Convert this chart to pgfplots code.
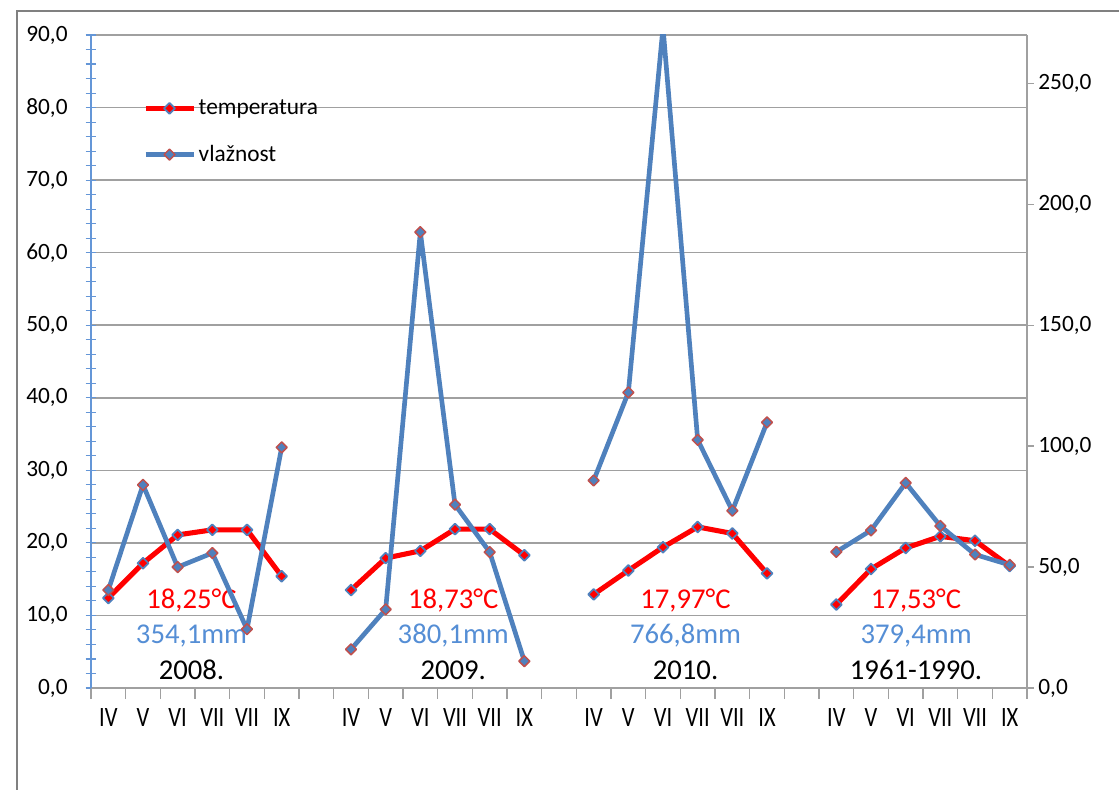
\documentclass[border=0pt]{standalone}
\usepackage{pgfplots}
\pgfplotsset{compat=1.18}
\usepackage{fontspec}
\setmainfont{Carlito}

\definecolor{tempred}{RGB}{255,0,0}
\definecolor{vlblue}{RGB}{79,129,189}
\definecolor{mkred}{RGB}{192,80,77}
\definecolor{txtblue}{RGB}{85,142,213}
\definecolor{gridgray}{RGB}{160,160,160}
\definecolor{axblue}{RGB}{100,150,215}

\pgfplotsset{
  tempstyle/.style={tempred, line width=3.8pt, line join=round, mark=square*,
    mark size=2.9pt, mark options={rotate=45, solid, fill=tempred, draw=vlblue, line width=1.3pt}},
  vlazstyle/.style={vlblue, line width=3.5pt, line join=round, mark=square*,
    mark size=2.9pt, mark options={rotate=45, solid, fill=vlblue, draw=mkred, line width=1.1pt}},
}

\begin{document}
\begin{tikzpicture}
\useasboundingbox (-68.25pt,-75.75pt) rectangle (771pt,516pt);
\draw[line width=1.5pt, color=gray] (-55.5pt,-90pt) -- (-55.5pt,507.75pt) -- (790pt,507.75pt);

\begin{axis}[
    at={(0pt,0pt)}, anchor=south west,
    scale only axis,
    width=702pt, height=489.75pt,
    xmin=-0.5, xmax=26.5,
    ymin=0, ymax=90,
    axis x line*=bottom,
    axis y line*=left,
    x axis line style={-, draw=gridgray, line width=1pt},
    y axis line style={-, draw=axblue, line width=0.8pt},
    xtick={-0.5,0.5,...,26.5},
    x tick label as interval,
    xticklabels={IV,V,VI,VII,VII,IX,,IV,V,VI,VII,VII,IX,,IV,V,VI,VII,VII,IX,,IV,V,VI,VII,VII,IX},
    xtick align=outside,
    xtick style={draw=gridgray, line width=1pt},
    xticklabel style={font=\fontsize{21}{24}\selectfont, xscale=0.8, text height=17pt},
    ytick={0,10,...,90},
    minor y tick num=4,
    ytick align=center,
    major tick length=8pt,
    minor tick length=8pt,
    ytick style={draw=axblue, line width=0.8pt},
    ymajorgrids,
    major grid style={draw=gridgray, line width=1.1pt},
    yticklabel style={font=\fontsize{17.5}{20}\selectfont},
    yticklabel={\pgfmathprintnumber{\tick}\hspace*{10pt}},
    /pgf/number format/.cd, fixed, fixed zerofill, precision=1, use comma, assume math mode=true,
    /pgfplots/.cd,
    unbounded coords=jump,
    legend style={draw=none, fill=none, at={(0.051,0.909)}, anchor=north west,
      font=\fontsize{17.5}{20}\selectfont, row sep=17.5pt},
    legend cell align=left,
    legend image code/.code={\draw[mark repeat=2,mark phase=2] plot coordinates {(0pt,0pt) (18pt,0pt) (36pt,0pt)};},
]
\addplot[tempstyle] coordinates {
  (0,12.4) (1,17.2) (2,21.1) (3,21.8) (4,21.8) (5,15.4) (6,nan)
  (7,13.5) (8,17.9) (9,18.9) (10,21.9) (11,21.9) (12,18.3) (13,nan)
  (14,12.9) (15,16.2) (16,19.4) (17,22.2) (18,21.3) (19,15.8) (20,nan)
  (21,11.5) (22,16.4) (23,19.3) (24,20.9) (25,20.3) (26,16.8)
};
\addlegendentry{temperatura}
\addlegendimage{vlazstyle}
\addlegendentry{vlažnost}

\node[text=tempred, font=\fontsize{21.5}{24}\selectfont] at (axis cs:2.4,12.1) {18,25°C};
\node[text=txtblue, font=\fontsize{21.5}{24}\selectfont] at (axis cs:2.4,7.2) {354,1mm};
\node[text=black, font=\fontsize{21.5}{24}\selectfont] at (axis cs:2.4,2.5) {2008.};
\node[text=tempred, font=\fontsize{21.5}{24}\selectfont] at (axis cs:9.95,12.1) {18,73°C};
\node[text=txtblue, font=\fontsize{21.5}{24}\selectfont] at (axis cs:9.95,7.2) {380,1mm};
\node[text=black, font=\fontsize{21.5}{24}\selectfont] at (axis cs:9.95,2.5) {2009.};
\node[text=tempred, font=\fontsize{21.5}{24}\selectfont] at (axis cs:16.65,12.1) {17,97°C};
\node[text=txtblue, font=\fontsize{21.5}{24}\selectfont] at (axis cs:16.65,7.2) {766,8mm};
\node[text=black, font=\fontsize{21.5}{24}\selectfont] at (axis cs:16.65,2.5) {2010.};
\node[text=tempred, font=\fontsize{21.5}{24}\selectfont] at (axis cs:23.3,12.1) {17,53°C};
\node[text=txtblue, font=\fontsize{21.5}{24}\selectfont] at (axis cs:23.3,7.2) {379,4mm};
\node[text=black, font=\fontsize{21.5}{24}\selectfont] at (axis cs:23.3,2.5) {1961-1990.};
\end{axis}

\begin{axis}[
    at={(0pt,0pt)}, anchor=south west,
    scale only axis,
    width=702pt, height=489.75pt,
    xmin=-0.5, xmax=26.5,
    ymin=0, ymax=270,
    axis x line=none,
    axis y line*=right,
    y axis line style={-, draw=gridgray, line width=1.1pt},
    ytick={0,50,...,250},
    ytick align=outside,
    major tick length=5pt,
    ytick style={draw=gridgray, line width=1pt},
    yticklabel style={font=\fontsize{17.5}{20}\selectfont},
    /pgf/number format/.cd, fixed, fixed zerofill, precision=1, use comma, assume math mode=true,
    /pgfplots/.cd,
    unbounded coords=jump,
]
\addplot[vlazstyle] coordinates {
  (0,40.5) (1,84.0) (2,50.0) (3,55.8) (4,24.3) (5,99.5) (6,nan)
  (7,16.0) (8,32.5) (9,188.5) (10,75.8) (11,56.2) (12,11.1) (13,nan)
  (14,85.8) (15,122.2) (16,273.1) (17,102.6) (18,73.3) (19,109.8) (20,nan)
  (21,56.3) (22,65.2) (23,84.8) (24,67.0) (25,55.2) (26,50.9)
};
\end{axis}
\end{tikzpicture}
\end{document}
